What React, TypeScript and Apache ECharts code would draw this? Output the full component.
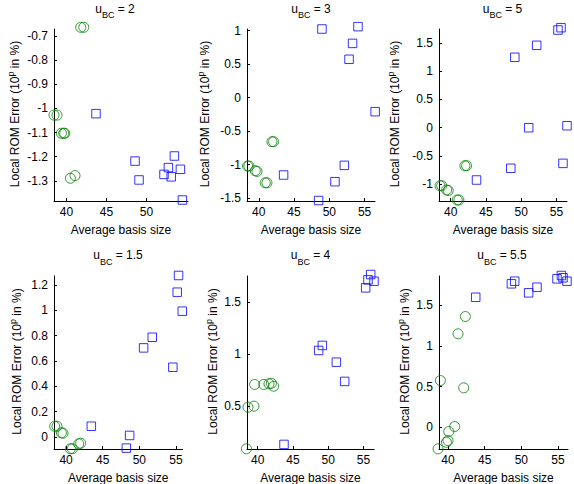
import React, { useEffect, useRef } from "react";
import * as echarts from "echarts";

// ---- data ----
const uValues = ["2", "3", "5", "1.5", "4", "5.5"];

const xTicksShort = [40, 45, 50];
const xTicksLong = [40, 45, 50, 55];

const yTicksU2 = [-1.3, -1.2, -1.1, -1, -0.9, -0.8, -0.7];
const yTicksU3 = [-1.5, -1, -0.5, 0, 0.5, 1];
const yTicksU5 = [-1, -0.5, 0, 0.5, 1, 1.5];
const yTicksU15 = [0, 0.2, 0.4, 0.6, 0.8, 1, 1.2];
const yTicksU4 = [0.5, 1, 1.5];
const yTicksU55 = [0, 0.5, 1, 1.5];

const circlesU2 = [
  [41.79, -0.665], [42.17, -0.665], [38.45, -1.028], [38.83, -1.028],
  [39.37, -1.103], [39.66, -1.103], [39.79, -1.103], [40.5, -1.289], [41.08, -1.278],
];
const squaresU2 = [
  [43.7, -1.022], [48.58, -1.218], [49.08, -1.296], [52.2, -1.273], [52.75, -1.245],
  [53.1, -1.283], [53.5, -1.197], [54.25, -1.252], [54.5, -1.379],
];

const circlesU3 = [
  [41.87, -0.657], [42.1, -0.657], [38.41, -1.02], [38.6, -1.02],
  [39.5, -1.09], [39.75, -1.1], [40.92, -1.27], [41.16, -1.27],
];
const squaresU3 = [
  [48.96, 1.025], [54.07, 1.06], [53.3, 0.81], [52.8, 0.573], [56.5, -0.209],
  [52.13, -1.01], [50.8, -1.254], [43.52, -1.154], [48.48, -1.535],
];

const circlesU5 = [
  [42.02, -0.671], [42.26, -0.671], [38.49, -1.025], [38.73, -1.025],
  [39.43, -1.1], [39.66, -1.11], [40.94, -1.277], [41.17, -1.277],
];
const squaresU5 = [
  [43.67, -0.924], [48.53, -0.717], [49.1, 1.244], [52.2, 1.456], [55.22, 1.726],
  [55.65, 1.767], [51.07, 0], [56.5, 0.035], [55.93, -0.63],
];

const circlesU15 = [
  [38.44, 0.085], [38.76, 0.085], [39.36, 0.033], [39.58, 0.03],
  [40.59, -0.093], [40.86, -0.093], [41.72, -0.054], [41.99, -0.049],
];
const squaresU15 = [
  [43.45, 0.085], [48.68, 0.012], [48.23, -0.088], [50.59, 0.704], [51.77, 0.788],
  [54.58, 0.551], [55.36, 1.276], [55.18, 1.144], [55.87, 0.994],
];

const circlesU4 = [
  [38.4, 0.09], [38.62, 0.49], [39.47, 0.5], [39.57, 0.709], [40.85, 0.709],
  [41.6, 0.715], [41.94, 0.72], [42.27, 0.692],
];
const squaresU4 = [
  [43.73, 0.132], [48.65, 1.036], [49.17, 1.084], [51.16, 0.923], [52.34, 0.738],
  [55.32, 1.638], [55.65, 1.715], [56.03, 1.766], [56.5, 1.702],
];

const circlesU55 = [
  [38.64, -0.266], [39.78, -0.185], [40.0, -0.164], [40.1, -0.053], [40.91, 0.009],
  [38.96, 0.575], [42.14, 0.485], [41.37, 1.15], [42.37, 1.363],
];
const squaresU55 = [
  [43.78, 1.6], [48.65, 1.766], [49.1, 1.798], [51.0, 1.655], [52.14, 1.724],
  [54.87, 1.827], [55.47, 1.868], [55.69, 1.84], [56.23, 1.798],
];

// ---- layout (not data) ----
const FONT = "'Liberation Sans', Arial, Helvetica, sans-serif";
const GREEN = "#008000";
const BLUE = "#0000ff";

const panels = [
  { u: uValues[0], circles: circlesU2, squares: squaresU2, xTicks: xTicksShort, yTicks: yTicksU2,
    xMin: 38.45, xMax: 55.2, yMin: -1.383, yMax: -0.672,
    left: 54, top: 29, width: 134, height: 172, titleX: 115, yNameX: 15 },
  { u: uValues[1], circles: circlesU3, squares: squaresU3, xTicks: xTicksLong, yTicks: yTicksU3,
    xMin: 38.33, xMax: 56.48, yMin: -1.542, yMax: 1.025,
    left: 247, top: 29, width: 128, height: 172, titleX: 311, yNameX: 205 },
  { u: uValues[2], circles: circlesU5, squares: squaresU5, xTicks: xTicksLong, yTicks: yTicksU5,
    xMin: 38.35, xMax: 56.5, yMin: -1.295, yMax: 1.744,
    left: 439, top: 29, width: 128, height: 172, titleX: 502.5, yNameX: 395 },
  { u: uValues[3], circles: circlesU15, squares: squaresU15, xTicks: xTicksLong, yTicks: yTicksU15,
    xMin: 38.35, xMax: 55.9, yMin: -0.095, yMax: 1.272,
    left: 54, top: 276, width: 128.5, height: 173, titleX: 118, yNameX: 17 },
  { u: uValues[4], circles: circlesU4, squares: squaresU4, xTicks: xTicksLong, yTicks: yTicksU4,
    xMin: 38.48, xMax: 56.5, yMin: 0.088, yMax: 1.752,
    left: 247, top: 276, width: 127, height: 173, titleX: 310.5, yNameX: 213 },
  { u: uValues[5], circles: circlesU55, squares: squaresU55, xTicks: xTicksLong, yTicks: yTicksU55,
    xMin: 38.77, xMax: 56.37, yMin: -0.268, yMax: 1.862,
    left: 439, top: 276, width: 129, height: 173, titleX: 502, yNameX: 405 },
];

function buildOption() {
  const axisCommon = {
    axisLine: { show: true, onZero: false, lineStyle: { color: "#000", width: 1 } },
    splitLine: { show: false },
  };
  const grid = panels.map((p) => ({
    left: p.left, top: p.top, width: p.width, height: p.height, containLabel: false,
  }));
  const xAxis = panels.map((p, i) => ({
    type: "value", gridIndex: i, min: p.xMin, max: p.xMax, ...axisCommon,
    axisTick: { show: true, inside: true, length: 3, customValues: p.xTicks, lineStyle: { color: "#000" } },
    axisLabel: { customValues: p.xTicks, margin: 5, fontSize: 12, color: "#000", fontFamily: FONT },
  }));
  const yAxis = panels.map((p, i) => ({
    type: "value", gridIndex: i, min: p.yMin, max: p.yMax, position: "left", ...axisCommon,
    axisTick: { show: true, inside: true, length: 3, customValues: p.yTicks, lineStyle: { color: "#000" } },
    axisLabel: { customValues: p.yTicks, margin: 6, fontSize: 12, color: "#000", fontFamily: FONT },
  }));
  const series: any[] = [];
  panels.forEach((p, i) => {
    series.push({
      type: "scatter", xAxisIndex: i, yAxisIndex: i, data: p.circles, clip: false, silent: true,
      symbol: "circle", symbolSize: 10,
      itemStyle: { color: "rgba(0,0,0,0)", borderColor: GREEN, borderWidth: 1 },
    });
    series.push({
      type: "scatter", xAxisIndex: i, yAxisIndex: i, data: p.squares, clip: false, silent: true,
      symbol: "rect", symbolSize: 8.5,
      itemStyle: { color: "rgba(0,0,0,0)", borderColor: BLUE, borderWidth: 1 },
    });
  });

  const graphic: any[] = [];
  panels.forEach((p) => {
    const row2 = p.top > 200;
    // title
    graphic.push({
      type: "text", x: p.titleX, y: row2 ? 244 : -2.5, silent: true,
      style: {
        text: `{m|u}{s|BC}{m| = ${p.u}}`, align: "center", verticalAlign: "top",
        rich: {
          m: { fontSize: 12, fontFamily: FONT, fill: "#000", lineHeight: 22, verticalAlign: "middle" },
          s: { fontSize: 9, fontFamily: FONT, fill: "#000", lineHeight: 10, verticalAlign: "bottom" },
        },
      },
    });
    // y name
    graphic.push({
      type: "text", x: p.yNameX, y: p.top + p.height / 2 - 1, rotation: Math.PI / 2, silent: true,
      style: {
        text: "{m|Local ROM Error (10}{s|p}{m| in %)}", align: "center", verticalAlign: "middle",
        rich: {
          m: { fontSize: 12, fontFamily: FONT, fill: "#000", lineHeight: 18, verticalAlign: "middle" },
          s: { fontSize: 9, fontFamily: FONT, fill: "#000", lineHeight: 10, verticalAlign: "top" },
        },
      },
    });
    // x name
    graphic.push({
      type: "text", x: p.left + p.width / 2, y: p.top + p.height + 29, silent: true,
      style: {
        text: "Average basis size", align: "center", verticalAlign: "middle",
        fontSize: 12, fontFamily: FONT, fill: "#000",
      },
    });
  });

  return {
    animation: false,
    backgroundColor: "#fff",
    grid, xAxis, yAxis, series, graphic,
  };
}

export default function App() {
  const ref = useRef<HTMLDivElement>(null);
  useEffect(() => {
    if (!ref.current) return;
    const chart = echarts.init(ref.current, undefined, { renderer: "svg" });
    chart.setOption(buildOption() as any);
    return () => chart.dispose();
  }, []);
  return (
    <div
      ref={ref}
      style={{ position: "absolute", left: 0, top: 0, width: 574, height: 484, background: "#fff" }}
    />
  );
}
